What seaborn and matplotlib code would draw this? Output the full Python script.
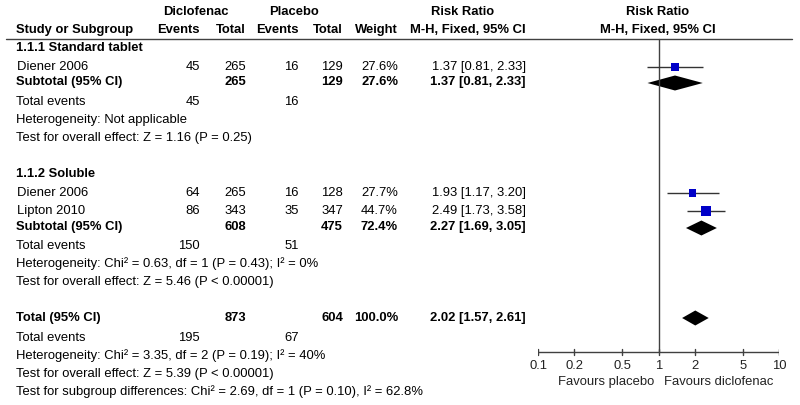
import numpy as np
import pandas as pd
import matplotlib
matplotlib.use("Agg")
import matplotlib.pyplot as plt
import seaborn as sns

# ---- data ----
study_names = ["Diener 2006", "Diener 2006", "Lipton 2010"]
study_group = [0, 1, 1]
dic_events = [45, 64, 86]
dic_total = [265, 265, 343]
pla_events = [16, 16, 35]
pla_total = [129, 128, 347]
weights = [27.6, 27.7, 44.7]
rr = [1.37, 1.93, 2.49]
rr_lo = [0.81, 1.17, 1.73]
rr_hi = [2.33, 3.20, 3.58]

group_names = ["1.1.1 Standard tablet", "1.1.2 Soluble"]
sub_dic_events = [45, 150]
sub_pla_events = [16, 51]
sub_dic_total = [265, 608]
sub_pla_total = [129, 475]
sub_weight = [27.6, 72.4]
sub_rr = [1.37, 2.27]
sub_lo = [0.81, 1.69]
sub_hi = [2.33, 3.05]
sub_het = ["Heterogeneity: Not applicable",
           "Heterogeneity: Chi\u00b2 = 0.63, df = 1 (P = 0.43); I\u00b2 = 0%"]
sub_test = ["Test for overall effect: Z = 1.16 (P = 0.25)",
            "Test for overall effect: Z = 5.46 (P < 0.00001)"]

tot_dic_events = 195
tot_pla_events = 67
tot_dic_total = 873
tot_pla_total = 604
tot_weight = 100.0
tot_rr = 2.02
tot_lo = 1.57
tot_hi = 2.61
tot_het = "Heterogeneity: Chi\u00b2 = 3.35, df = 2 (P = 0.19); I\u00b2 = 40%"
tot_test = "Test for overall effect: Z = 5.39 (P < 0.00001)"
subgroup_test = "Test for subgroup differences: Chi\u00b2 = 2.69, df = 1 (P = 0.10), I\u00b2 = 62.8%"

tick_vals = [0.1, 0.2, 0.5, 1, 2, 5, 10]
tick_labels = ["0.1", "0.2", "0.5", "1", "2", "5", "10"]

# ---- layout (pixel rows / columns) ----
W, H = 800, 405
row_hdr1, row_hdr2, row_line = 12, 30, 39
row_group = [48, 174]
row_study = [67, 193, 211]
row_sub = [82, 227]
row_te = [102, 246]
row_het = [120, 264]
row_test = [138, 282]
row_total, row_total_te, row_total_het, row_total_test, row_subgroup = 318, 338, 356, 374, 392
x_left = 16
col_ev1, col_tot1, col_ev2, col_tot2, col_w, col_rr = 200, 246, 299, 343, 398, 526
plot_x0, plot_x1 = 538, 779
axis_y = 352

sns.set_theme(style="white")
plt.rcParams["font.family"] = ["Liberation Sans", "DejaVu Sans"]
fs = 9.4

fig = plt.figure(figsize=(W / 100, H / 100), dpi=100)
ax = fig.add_axes([0, 0, 1, 1])
ax.set_xlim(0, W)
ax.set_ylim(H, 0)
ax.axis("off")

def txt(x, y, s, ha="left", bold=False):
    ax.text(x, y, s, ha=ha, va="center", fontsize=fs,
            fontweight="bold" if bold else "normal", color="black")

# header
txt(196, row_hdr1, "Diclofenac", ha="center", bold=True)
txt(294, row_hdr1, "Placebo", ha="center", bold=True)
txt(463, row_hdr1, "Risk Ratio", ha="center", bold=True)
txt(658, row_hdr1, "Risk Ratio", ha="center", bold=True)
txt(x_left, row_hdr2, "Study or Subgroup", bold=True)
for x, s in [(col_ev1, "Events"), (col_tot1, "Total"), (col_ev2, "Events"),
             (col_tot2, "Total"), (col_w, "Weight"), (col_rr, "M-H, Fixed, 95% CI")]:
    txt(x, row_hdr2, s, ha="right", bold=True)
txt(658, row_hdr2, "M-H, Fixed, 95% CI", ha="center", bold=True)
ax.plot([6, 792], [row_line, row_line], color="#404040", lw=1)

# study rows
for i, name in enumerate(study_names):
    y = row_study[i]
    txt(x_left + 1, y, name)
    txt(col_ev1, y, str(dic_events[i]), ha="right")
    txt(col_tot1, y, str(dic_total[i]), ha="right")
    txt(col_ev2, y, str(pla_events[i]), ha="right")
    txt(col_tot2, y, str(pla_total[i]), ha="right")
    txt(col_w, y, f"{weights[i]:.1f}%", ha="right")
    txt(col_rr, y, f"{rr[i]:.2f} [{rr_lo[i]:.2f}, {rr_hi[i]:.2f}]", ha="right")

# subgroup rows
for g, gname in enumerate(group_names):
    txt(x_left, row_group[g], gname, bold=True)
    y = row_sub[g]
    txt(x_left, y, "Subtotal (95% CI)", bold=True)
    txt(col_tot1, y, str(sub_dic_total[g]), ha="right", bold=True)
    txt(col_tot2, y, str(sub_pla_total[g]), ha="right", bold=True)
    txt(col_w, y, f"{sub_weight[g]:.1f}%", ha="right", bold=True)
    txt(col_rr, y, f"{sub_rr[g]:.2f} [{sub_lo[g]:.2f}, {sub_hi[g]:.2f}]", ha="right", bold=True)
    txt(x_left, row_te[g], "Total events")
    txt(col_ev1, row_te[g], str(sub_dic_events[g]), ha="right")
    txt(col_ev2, row_te[g], str(sub_pla_events[g]), ha="right")
    txt(x_left, row_het[g], sub_het[g])
    txt(x_left, row_test[g], sub_test[g])

# overall
txt(x_left, row_total, "Total (95% CI)", bold=True)
txt(col_tot1, row_total, str(tot_dic_total), ha="right", bold=True)
txt(col_tot2, row_total, str(tot_pla_total), ha="right", bold=True)
txt(col_w, row_total, f"{tot_weight:.1f}%", ha="right", bold=True)
txt(col_rr, row_total, f"{tot_rr:.2f} [{tot_lo:.2f}, {tot_hi:.2f}]", ha="right", bold=True)
txt(x_left, row_total_te, "Total events")
txt(col_ev1, row_total_te, str(tot_dic_events), ha="right")
txt(col_ev2, row_total_te, str(tot_pla_events), ha="right")
txt(x_left, row_total_het, tot_het)
txt(x_left, row_total_test, tot_test)
txt(x_left, row_subgroup, subgroup_test)

# ---- forest panel on a log axis ----
axf = fig.add_axes([plot_x0 / W, 0, (plot_x1 - plot_x0) / W, 1])
axf.set_xscale("log")
axf.set_xlim(0.1, 10)
axf.set_ylim(H, 0)
axf.axis("off")

axf.plot([1, 1], [row_line, axis_y], color="#404040", lw=1)
axf.plot([0.1, 10], [axis_y, axis_y], color="#404040", lw=1)
for v, lab in zip(tick_vals, tick_labels):
    axf.plot([v, v], [axis_y - 3, axis_y + 3], color="#404040", lw=1)
    axf.text(v, 366, lab, ha="center", va="center", fontsize=fs, color="#222222")
axf.text(0.92, 382, "Favours placebo", ha="right", va="center", fontsize=fs, color="#222222")
axf.text(1.12, 382, "Favours diclofenac", ha="left", va="center", fontsize=fs, color="#222222")

# CI whiskers and weighted squares
axf.hlines(row_study, rr_lo, rr_hi, color="#333333", lw=1)
df = pd.DataFrame({"rr": rr, "y": row_study, "weight": weights})
sns.scatterplot(data=df, x="rr", y="y", size="weight", sizes=(26, 48),
                marker="s", color="#0000c8", linewidth=0, legend=False, ax=axf,
                zorder=3)
axf.set_xlim(0.1, 10)
axf.set_ylim(H, 0)
axf.axis("off")

# pooled diamonds
def diamond(est, lo, hi, y, h=7.5):
    axf.fill([lo, est, hi, est], [y, y - h, y, y + h], color="black", lw=0)

for g in range(len(group_names)):
    diamond(sub_rr[g], sub_lo[g], sub_hi[g], row_sub[g] + 1)
diamond(tot_rr, tot_lo, tot_hi, row_total)

fig.savefig("out.png", dpi=100)
